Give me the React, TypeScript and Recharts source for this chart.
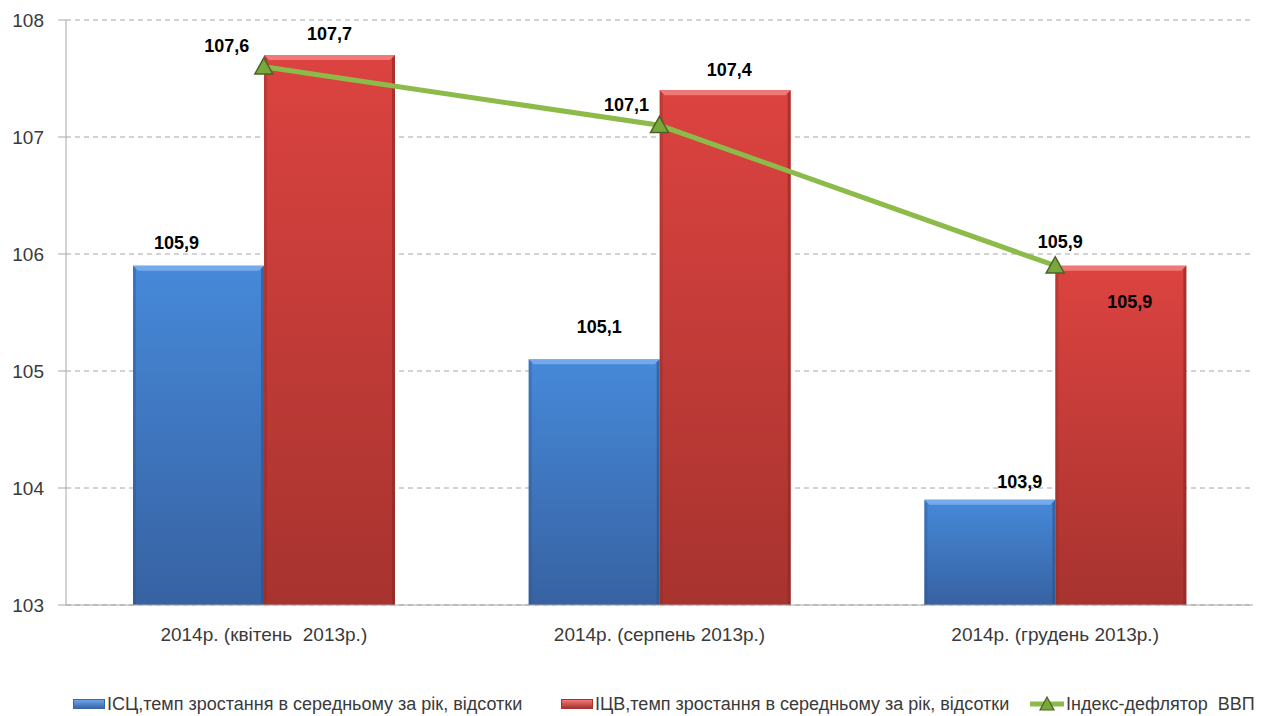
import {
  Bar,
  CartesianGrid,
  ComposedChart,
  LabelList,
  Legend,
  Line,
  XAxis,
  YAxis,
} from "recharts";

const categories = [
  "2014р. (квітень  2013р.)",
  "2014р. (серпень 2013р.)",
  "2014р. (грудень 2013р.)",
];
const icsValues = [105.9, 105.1, 103.9];
const icvValues = [107.7, 107.4, 105.9];
const deflatorValues = [107.6, 107.1, 105.9];
const yTicks = [103, 104, 105, 106, 107, 108];

const ICS_NAME = "ІСЦ,темп зростання в середньому за рік, відсотки";
const ICV_NAME = "ІЦВ,темп зростання в середньому за рік, відсотки";
const DEFLATOR_NAME = "Індекс-дефлятор  ВВП";

const FONT = '"Liberation Sans", Arial, sans-serif';
const TEXT = "#3a3a3a";
const GRID = "#a6a6a6";
const LINE_GREEN = "#8dbb4a";

// label nudges, per point (dx, dy from the default anchor)
const ICS_LABEL_OFFSET = [
  [-22, -23],
  [5, -32],
  [30, -18],
];
const ICV_LABEL_OFFSET = [
  [0, -21],
  [4, -20],
  [9, 36],
];
const DEFL_LABEL_OFFSET = [
  [-37, -21],
  [-33, -20],
  [5, -24],
];

const data = categories.map((name, i) => ({
  name,
  ics: icsValues[i],
  icv: icvValues[i],
  deflator: deflatorValues[i],
}));

const fmt = (v: number) => v.toFixed(1).replace(".", ",");

function makeBarLabel(offsets: number[][]) {
  return (props: any) => {
    const { x, y, width, value, index } = props;
    const [dx, dy] = offsets[index] ?? [0, 0];
    return (
      <text
        x={x + width / 2 + dx}
        y={y + dy}
        textAnchor="middle"
        dominantBaseline="central"
        fontFamily={FONT}
        fontWeight="bold"
        fontSize={18}
        fill="#000"
      >
        {fmt(value)}
      </text>
    );
  };
}

function lineLabel(props: any) {
  const { x, y, value, index } = props;
  const [dx, dy] = DEFL_LABEL_OFFSET[index] ?? [0, 0];
  return (
    <text
      x={x + dx}
      y={y + dy}
      textAnchor="middle"
      dominantBaseline="central"
      fontFamily={FONT}
      fontWeight="bold"
      fontSize={18}
      fill="#000"
      stroke="#fff"
      strokeWidth={3}
      paintOrder="stroke"
    >
      {fmt(value)}
    </text>
  );
}

function BevelBar(props: any) {
  const { x, y, width, height, gradId, light, dark } = props;
  if (!height || height <= 0) return null;
  const b = 5;
  return (
    <g>
      <rect x={x} y={y} width={width} height={height} fill={`url(#${gradId})`} />
      <polygon
        points={`${x},${y} ${x + width},${y} ${x + width - b},${y + b} ${x + b},${y + b}`}
        fill={light}
        opacity={0.85}
      />
      <polygon
        points={`${x + width},${y} ${x + width},${y + height} ${x + width - 3},${y + height} ${x + width - 3},${y + 3}`}
        fill={dark}
        opacity={0.6}
      />
      <polygon
        points={`${x},${y} ${x + 3},${y + 3} ${x + 3},${y + height} ${x},${y + height}`}
        fill={dark}
        opacity={0.35}
      />
    </g>
  );
}

function TriangleDot(props: any) {
  const { cx, cy } = props;
  if (cx == null || cy == null) return null;
  const s = 9;
  return (
    <polygon
      points={`${cx},${cy - s} ${cx + s},${cy + s * 0.8} ${cx - s},${cy + s * 0.8}`}
      fill="#79a83a"
      stroke="#4c6127"
      strokeWidth={1.5}
    />
  );
}

function CategoryTick(props: any) {
  const { x, y, payload } = props;
  return (
    <text
      x={x}
      y={y}
      dy={14}
      textAnchor="middle"
      fontFamily={FONT}
      fontSize={19}
      fill={TEXT}
      style={{ whiteSpace: "pre" }}
    >
      {payload.value}
    </text>
  );
}

function LegendSwatch({ top, bottom }: { top: string; bottom: string }) {
  return (
    <span
      style={{
        display: "inline-block",
        width: 30,
        height: 8,
        marginRight: 2,
        background: `linear-gradient(${top}, ${bottom})`,
        border: `1px solid ${bottom}`,
      }}
    />
  );
}

function ChartLegend() {
  const textStyle = {
    fontFamily: FONT,
    fontSize: 18,
    color: TEXT,
    whiteSpace: "pre" as const,
  };
  return (
    <div
      style={{
        height: 24,
        display: "flex",
        alignItems: "center",
        paddingLeft: 73,
      }}
    >
      <span style={{ display: "flex", alignItems: "center", width: 488 }}>
        <LegendSwatch top="#6fa5e8" bottom="#3966a8" />
        <span style={textStyle}>{ICS_NAME}</span>
      </span>
      <span style={{ display: "flex", alignItems: "center", width: 469 }}>
        <LegendSwatch top="#f07a78" bottom="#a8322f" />
        <span style={textStyle}>{ICV_NAME}</span>
      </span>
      <span style={{ display: "flex", alignItems: "center" }}>
        <svg width={34} height={20} style={{ marginRight: 2 }}>
          <line x1={0} y1={10} x2={34} y2={10} stroke={LINE_GREEN} strokeWidth={5} />
          <polygon points="17,3 24,16 10,16" fill="#79a83a" stroke="#4c6127" strokeWidth={1.2} />
        </svg>
        <span style={textStyle}>{DEFLATOR_NAME}</span>
      </span>
    </div>
  );
}

export default function App() {
  return (
    <div style={{ position: "absolute", left: 0, top: 0, width: 1264, height: 716, background: "#fff" }}>
      <ComposedChart
        width={1264}
        height={716}
        data={data}
        margin={{ top: 20, right: 11, left: 0, bottom: 0 }}
        barGap={0}
      >
        <defs>
          <linearGradient id="gradBlue" x1="0" y1="0" x2="0" y2="1">
            <stop offset="0%" stopColor="#4689d9" />
            <stop offset="100%" stopColor="#3762a2" />
          </linearGradient>
          <linearGradient id="gradRed" x1="0" y1="0" x2="0" y2="1">
            <stop offset="0%" stopColor="#dc4340" />
            <stop offset="100%" stopColor="#a7332f" />
          </linearGradient>
        </defs>
        <CartesianGrid vertical={false} stroke={GRID} strokeDasharray="5 4" />
        <XAxis
          dataKey="name"
          height={87}
          tickLine={false}
          tickSize={0}
          tickMargin={22}
          axisLine={{ stroke: GRID }}
          tick={<CategoryTick />}
          interval={0}
        />
        <YAxis
          domain={[103, 108]}
          ticks={yTicks}
          width={66}
          tickSize={8}
          tickMargin={14}
          tickLine={{ stroke: GRID }}
          axisLine={{ stroke: GRID }}
          tick={{ fill: TEXT, fontSize: 19, fontFamily: FONT }}
          allowDataOverflow
        />
        <Legend verticalAlign="bottom" wrapperStyle={{ left: 0, width: 1264 }} content={<ChartLegend />} />
        <Bar
          dataKey="ics"
          name={ICS_NAME}
          barSize={131}
          isAnimationActive={false}
          shape={(p: any) => <BevelBar {...p} gradId="gradBlue" light="#7cb0ee" dark="#2c5288" />}
        >
          <LabelList dataKey="ics" content={makeBarLabel(ICS_LABEL_OFFSET)} />
        </Bar>
        <Bar
          dataKey="icv"
          name={ICV_NAME}
          barSize={131}
          isAnimationActive={false}
          shape={(p: any) => <BevelBar {...p} gradId="gradRed" light="#f2827f" dark="#8a2724" />}
        >
          <LabelList dataKey="icv" content={makeBarLabel(ICV_LABEL_OFFSET)} />
        </Bar>
        <Line
          dataKey="deflator"
          name={DEFLATOR_NAME}
          stroke={LINE_GREEN}
          strokeWidth={5}
          dot={<TriangleDot />}
          activeDot={false}
          isAnimationActive={false}
        >
          <LabelList dataKey="deflator" content={lineLabel} />
        </Line>
      </ComposedChart>
    </div>
  );
}
